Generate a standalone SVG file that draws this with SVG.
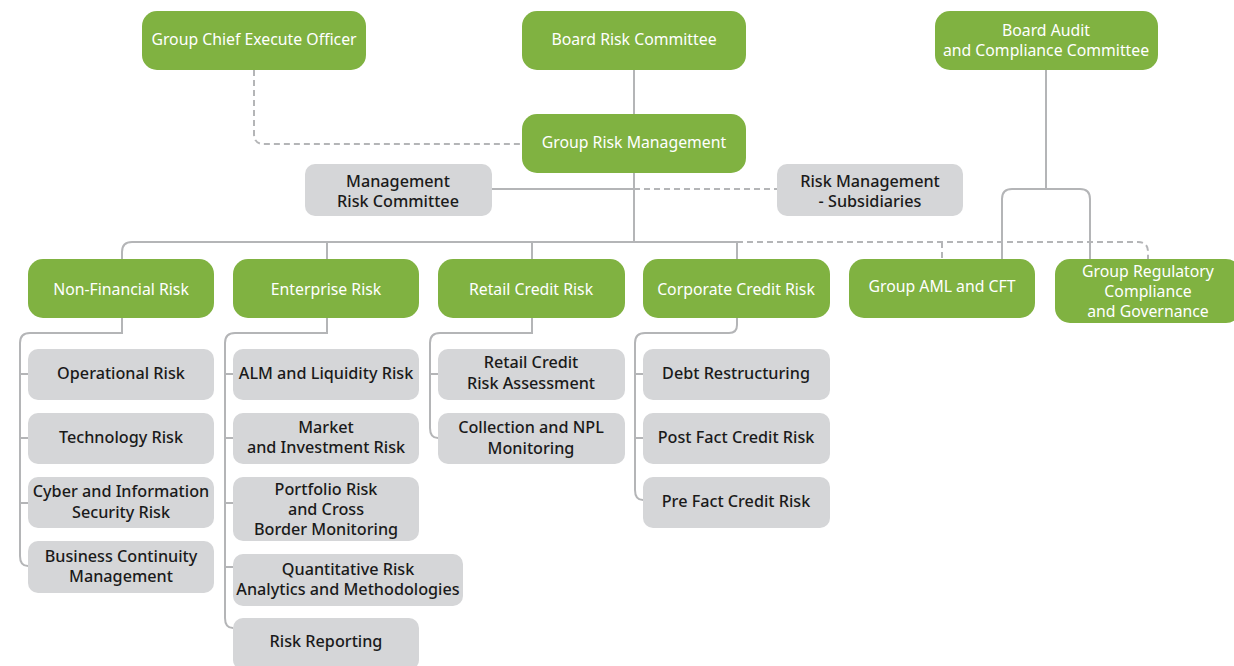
<svg xmlns="http://www.w3.org/2000/svg" width="1234" height="666" viewBox="0 0 1234 666">
<style>
.g{fill:#80b241}
.s{fill:#d5d6d8}
.t{font-family:"Noto Sans","Open Sans",sans-serif;text-anchor:middle;dominant-baseline:central}
.w{fill:#ffffff;font-size:15.8px}
.k{fill:#1a1a1a;font-size:16.2px;font-weight:500}
.ln{fill:none;stroke:#b4b5b7;stroke-width:2}
.ds{fill:none;stroke:#b4b5b7;stroke-width:2;stroke-dasharray:6 4}
</style>
<rect width="1234" height="666" fill="#ffffff"/>
<g id="connectors">
<path class="ds" d="M254,70 V134 Q254,144 264,144 H522"/>
<path class="ln" d="M634,70 V114"/>
<path class="ln" d="M634,173 V242"/>
<path class="ln" d="M492,189 H634"/>
<path class="ds" d="M634,189 H777"/>
<path class="ln" d="M122,259 V252 Q122,242 132,242 H737 V259"/>
<path class="ln" d="M327,242 V259"/>
<path class="ln" d="M532,242 V259"/>
<path class="ds" d="M737,242 H1138 Q1148,242 1148,252 V259"/>
<path class="ds" d="M942,242 V259"/>
<path class="ln" d="M1046,70 V189"/>
<path class="ln" d="M1002,259 V199 Q1002,189 1012,189 H1080 Q1090,189 1090,199 V259"/>
<path class="ln" d="M122,318 V333 H30 Q20,333 20,343 V556 Q20,566 28,566"/>
<path class="ln" d="M20,374 H28 M20,438 H28 M20,503 H28"/>
<path class="ln" d="M327,318 V333 H235 Q225,333 225,343 V618 Q225,628 233,628"/>
<path class="ln" d="M225,374 H233 M225,438 H233 M225,503 H233 M225,567 H233"/>
<path class="ln" d="M532,318 V333 H440 Q430,333 430,343 V428 Q430,438 438,438"/>
<path class="ln" d="M430,374 H438"/>
<path class="ln" d="M737,318 V325 Q737,333 729,333 H645 Q635,333 635,343 V490 Q635,500 643,500"/>
<path class="ln" d="M635,374 H643 M635,438 H643"/>
</g>
<g id="ceo"><rect class="g" x="142" y="11" width="224" height="59" rx="15"/><text class="t w" x="254" y="39">Group Chief Execute Officer</text></g>
<g id="brc"><rect class="g" x="522" y="11" width="224" height="59" rx="15"/><text class="t w" x="634" y="39">Board Risk Committee</text></g>
<g id="bacc"><rect class="g" x="935" y="11" width="223" height="59" rx="15"/><text class="t w" x="1046" y="30">Board Audit</text><text class="t w" x="1046" y="50">and Compliance Committee</text></g>
<g id="grm"><rect class="g" x="522" y="114" width="224" height="59" rx="15"/><text class="t w" x="634" y="142">Group Risk Management</text></g>
<g id="mrc"><rect class="s" x="305" y="164" width="187" height="52" rx="10"/><text class="t k" x="398" y="181">Management</text><text class="t k" x="398" y="201">Risk Committee</text></g>
<g id="rms"><rect class="s" x="777" y="164" width="186" height="52" rx="10"/><text class="t k" x="870" y="181">Risk Management</text><text class="t k" x="870" y="201">- Subsidiaries</text></g>
<g id="nfr"><rect class="g" x="28" y="259" width="186" height="59" rx="15"/><text class="t w" x="121" y="289">Non-Financial Risk</text></g>
<g id="er"><rect class="g" x="233" y="259" width="186" height="59" rx="15"/><text class="t w" x="326" y="289">Enterprise Risk</text></g>
<g id="rcr"><rect class="g" x="438" y="259" width="187" height="59" rx="15"/><text class="t w" x="531" y="289">Retail Credit Risk</text></g>
<g id="ccr"><rect class="g" x="643" y="259" width="187" height="59" rx="15"/><text class="t w" x="736" y="289">Corporate Credit Risk</text></g>
<g id="aml"><rect class="g" x="849" y="259" width="186" height="59" rx="15"/><text class="t w" x="942" y="286">Group AML and CFT</text></g>
<g id="grc"><rect class="g" x="1055" y="259" width="186" height="64" rx="15"/><text class="t w" x="1148" y="271">Group Regulatory</text><text class="t w" x="1148" y="291">Compliance</text><text class="t w" x="1148" y="311">and Governance</text></g>
<g id="op"><rect class="s" x="28" y="349" width="186" height="51" rx="10"/><text class="t k" x="121" y="373">Operational Risk</text></g>
<g id="tech"><rect class="s" x="28" y="413" width="186" height="51" rx="10"/><text class="t k" x="121" y="437">Technology Risk</text></g>
<g id="cyber"><rect class="s" x="28" y="477" width="186" height="51" rx="10"/><text class="t k" x="121" y="491">Cyber and Information</text><text class="t k" x="121" y="512">Security Risk</text></g>
<g id="bcm"><rect class="s" x="28" y="541" width="186" height="52" rx="10"/><text class="t k" x="121" y="556">Business Continuity</text><text class="t k" x="121" y="576">Management</text></g>
<g id="alm"><rect class="s" x="233" y="349" width="186" height="51" rx="10"/><text class="t k" x="326" y="373">ALM and Liquidity Risk</text></g>
<g id="mir"><rect class="s" x="233" y="413" width="186" height="51" rx="10"/><text class="t k" x="326" y="427">Market</text><text class="t k" x="326" y="447">and Investment Risk</text></g>
<g id="prc"><rect class="s" x="233" y="477" width="186" height="64" rx="10"/><text class="t k" x="326" y="489">Portfolio Risk</text><text class="t k" x="326" y="509">and Cross</text><text class="t k" x="326" y="529">Border Monitoring</text></g>
<g id="qra"><rect class="s" x="233" y="554" width="230" height="52" rx="10"/><text class="t k" x="348" y="569">Quantitative Risk</text><text class="t k" x="348" y="589">Analytics and Methodologies</text></g>
<g id="rr"><rect class="s" x="233" y="618" width="186" height="52" rx="10"/><text class="t k" x="326" y="641">Risk Reporting</text></g>
<g id="rcra"><rect class="s" x="438" y="349" width="187" height="51" rx="10"/><text class="t k" x="531" y="362">Retail Credit</text><text class="t k" x="531" y="383">Risk Assessment</text></g>
<g id="npl"><rect class="s" x="438" y="413" width="187" height="51" rx="10"/><text class="t k" x="531" y="427">Collection and NPL</text><text class="t k" x="531" y="448">Monitoring</text></g>
<g id="debt"><rect class="s" x="643" y="349" width="187" height="51" rx="10"/><text class="t k" x="736" y="373">Debt Restructuring</text></g>
<g id="post"><rect class="s" x="643" y="413" width="187" height="51" rx="10"/><text class="t k" x="736" y="437">Post Fact Credit Risk</text></g>
<g id="pre"><rect class="s" x="643" y="477" width="187" height="51" rx="10"/><text class="t k" x="736" y="501">Pre Fact Credit Risk</text></g>
</svg>
